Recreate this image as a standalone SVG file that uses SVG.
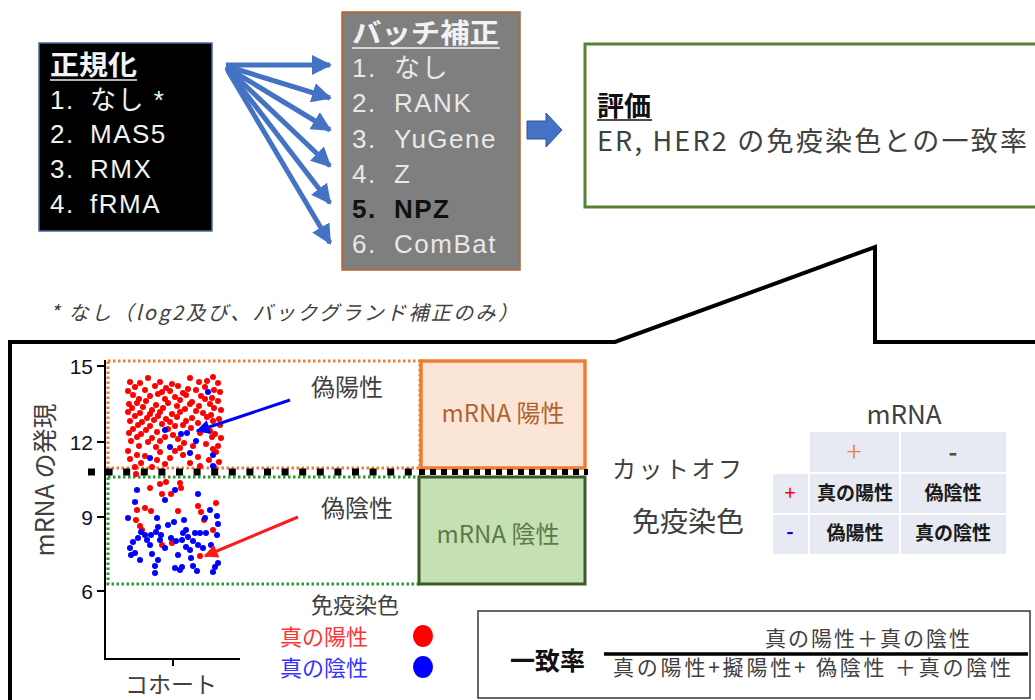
<svg xmlns="http://www.w3.org/2000/svg" xmlns:xlink="http://www.w3.org/1999/xlink" width="1035" height="700" viewBox="0 0 1035 700">
<style>
.jp{font-family:"Noto Sans CJK JP","Noto Sans",sans-serif}
.lt{font-family:"Liberation Sans","Noto Sans CJK JP",sans-serif}
.w{fill:#f2f2f2;font-size:26px;letter-spacing:1.5px}
.g{fill:#e8e8e8;font-size:26px;letter-spacing:1.5px}
.t{fill:#404040}
.num{font-family:"Liberation Sans",Arial,sans-serif;font-size:21px;fill:#10102a;text-anchor:end}
.r{fill:#ff0000}
.b{fill:#0000ff}
.cell{fill:#e8eaf3}
.ct{font-size:19px;font-weight:bold;fill:#1a1a1a;text-anchor:middle}
.fan{stroke:#4472c4;stroke-width:5;fill:none}
</style>
<defs>
<marker id="ah" viewBox="0 0 10 10" refX="9" refY="5" markerUnits="userSpaceOnUse" markerWidth="20" markerHeight="20" orient="auto"><path d="M0,0 L10,5 L0,10 z" fill="#4472c4"/></marker>
<marker id="ahb" viewBox="0 0 10 10" refX="9" refY="5" markerUnits="userSpaceOnUse" markerWidth="16" markerHeight="14" orient="auto"><path d="M0,0 L10,5 L0,10 z" fill="#0000ff"/></marker>
<marker id="ahr" viewBox="0 0 10 10" refX="9" refY="5" markerUnits="userSpaceOnUse" markerWidth="16" markerHeight="14" orient="auto"><path d="M0,0 L10,5 L0,10 z" fill="#ff1a1a"/></marker>
<circle id="d" r="3"/>
</defs>
<rect width="1035" height="700" fill="#ffffff"/>

<!-- Normalization box -->
<g id="normalize">
<rect x="39" y="43" width="173" height="188" fill="#000000" stroke="#4a6aa0" stroke-width="1.5"/>
<text class="lt" x="50" y="75" font-size="27" font-weight="bold" fill="#f2f2f2" textLength="87" lengthAdjust="spacingAndGlyphs">正規化</text>
<line x1="50" y1="80" x2="137" y2="80" stroke="#f2f2f2" stroke-width="1.5"/>
<text class="lt w" x="50" y="109">1.<tspan x="90">なし *</tspan></text>
<text class="lt w" x="50" y="143">2.<tspan x="90">MAS5</tspan></text>
<text class="lt w" x="50" y="178">3.<tspan x="90">RMX</tspan></text>
<text class="lt w" x="50" y="213">4.<tspan x="90">fRMA</tspan></text>
</g>

<!-- Batch correction box -->
<g id="batch">
<rect x="342" y="12" width="178" height="258" fill="#7f7f7f" stroke="#c0622a" stroke-width="1.5"/>
<text class="lt" x="352" y="43" font-size="27" font-weight="bold" fill="#f2f2f2" textLength="147" lengthAdjust="spacingAndGlyphs">バッチ補正</text>
<line x1="352" y1="48" x2="500" y2="48" stroke="#f2f2f2" stroke-width="1.5"/>
<text class="lt g" x="352" y="77">1.<tspan x="394">なし</tspan></text>
<text class="lt g" x="352" y="112">2.<tspan x="394">RANK</tspan></text>
<text class="lt g" x="352" y="148">3.<tspan x="394">YuGene</tspan></text>
<text class="lt g" x="352" y="183">4.<tspan x="394">Z</tspan></text>
<text class="lt" x="352" y="218" font-size="26" font-weight="bold" fill="#111111" letter-spacing="1.5">5.<tspan x="394">NPZ</tspan></text>
<text class="lt g" x="352" y="253">6.<tspan x="394">ComBat</tspan></text>
</g>

<!-- Evaluation box -->
<g id="evaluation">
<rect x="585" y="44" width="460" height="163" fill="#ffffff" stroke="#548235" stroke-width="3"/>
<text class="lt" x="597" y="116" font-size="27" font-weight="bold" fill="#111111">評価</text>
<line x1="597" y1="120" x2="652" y2="120" stroke="#111111" stroke-width="1.5"/>
<text class="jp t" x="597" y="151" font-size="27" textLength="430" lengthAdjust="spacing">ER, HER2 の免疫染色との一致率</text>
</g>

<!-- Footnote -->
<g id="footnote">
<text class="jp t" x="50" y="320" font-size="20" font-style="italic" textLength="468" lengthAdjust="spacing">* なし（log2及び、バックグランド補正のみ）</text>
</g>

<!-- Connectors -->
<g id="connectors">
<line class="fan" x1="226" y1="65" x2="330" y2="65" marker-end="url(#ah)"/>
<line class="fan" x1="226" y1="66" x2="330" y2="98" marker-end="url(#ah)"/>
<line class="fan" x1="226" y1="67" x2="330" y2="130" marker-end="url(#ah)"/>
<line class="fan" x1="227" y1="68" x2="330" y2="166" marker-end="url(#ah)"/>
<line class="fan" x1="227" y1="69" x2="330" y2="203" marker-end="url(#ah)"/>
<line class="fan" x1="228" y1="71" x2="330" y2="243" marker-end="url(#ah)"/>
<path d="M527,121 H546 V113 L562,130 L546,147 V139 H527 Z" fill="#4472c4" stroke="#2f528f" stroke-width="1"/>
</g>

<!-- Callout frame -->
<g id="callout">
<path d="M10,702 V342 H615 L875,247 V342 H1040" fill="none" stroke="#000000" stroke-width="4"/>
</g>

<!-- Plot -->
<g id="plot">
<rect x="108" y="361" width="312" height="107" fill="none" stroke="#ed7d31" stroke-width="3" stroke-dasharray="2.5 2.5"/>
<rect x="108" y="477" width="312" height="107" fill="none" stroke="#2a9a2a" stroke-width="3" stroke-dasharray="2.5 2.5"/>
<rect x="421" y="361" width="164" height="107" fill="#fbe5d6" stroke="#ed7d31" stroke-width="3.5"/>
<rect x="419" y="477" width="166" height="107" fill="#c5e0b4" stroke="#3b5a26" stroke-width="3"/>
<text class="jp" x="503" y="422" font-size="24" fill="#b0632f" text-anchor="middle">mRNA 陽性</text>
<text class="jp" x="498" y="543" font-size="24" fill="#5e7a48" text-anchor="middle">mRNA 陰性</text>

<!-- axes -->
<line x1="105" y1="360" x2="105" y2="659" stroke="#000" stroke-width="2"/>
<line x1="104" y1="659" x2="240" y2="659" stroke="#000" stroke-width="2"/>
<line x1="173" y1="659" x2="173" y2="666" stroke="#000" stroke-width="2"/>
<line x1="97" y1="366" x2="105" y2="366" stroke="#000" stroke-width="2"/>
<line x1="97" y1="442" x2="105" y2="442" stroke="#000" stroke-width="2"/>
<line x1="97" y1="517" x2="105" y2="517" stroke="#000" stroke-width="2"/>
<line x1="97" y1="591" x2="105" y2="591" stroke="#000" stroke-width="2"/>
<text class="num" x="93" y="374">15</text>
<text class="num" x="93" y="450">12</text>
<text class="num" x="93" y="525">9</text>
<text class="num" x="93" y="599">6</text>
<text class="jp t" x="0" y="0" font-size="25" text-anchor="middle" transform="translate(54,480) rotate(-90)">mRNA の発現</text>
<text class="jp t" x="171" y="693" font-size="23" text-anchor="middle">コホート</text>

<!-- red dots upper -->
<g class="r">
<use xlink:href="#d" x="148" y="378"/><use xlink:href="#d" x="190" y="378"/><use xlink:href="#d" x="213" y="377"/><use xlink:href="#d" x="207" y="381"/>
<use xlink:href="#d" x="130" y="382"/><use xlink:href="#d" x="140" y="383"/><use xlink:href="#d" x="160" y="382"/><use xlink:href="#d" x="172" y="384"/><use xlink:href="#d" x="199" y="382"/><use xlink:href="#d" x="218" y="383"/>
<use xlink:href="#d" x="135" y="387"/><use xlink:href="#d" x="155" y="386"/><use xlink:href="#d" x="166" y="388"/><use xlink:href="#d" x="178" y="386"/><use xlink:href="#d" x="188" y="389"/><use xlink:href="#d" x="205" y="387"/><use xlink:href="#d" x="214" y="390"/>
<use xlink:href="#d" x="128" y="391"/><use xlink:href="#d" x="145" y="390"/><use xlink:href="#d" x="162" y="392"/><use xlink:href="#d" x="170" y="391"/><use xlink:href="#d" x="183" y="393"/><use xlink:href="#d" x="196" y="390"/><use xlink:href="#d" x="220" y="392"/>
<use xlink:href="#d" x="133" y="395"/><use xlink:href="#d" x="150" y="396"/><use xlink:href="#d" x="158" y="394"/><use xlink:href="#d" x="175" y="397"/><use xlink:href="#d" x="186" y="395"/><use xlink:href="#d" x="201" y="396"/><use xlink:href="#d" x="212" y="398"/>
<use xlink:href="#d" x="139" y="399"/><use xlink:href="#d" x="146" y="401"/><use xlink:href="#d" x="165" y="399"/><use xlink:href="#d" x="180" y="400"/><use xlink:href="#d" x="192" y="402"/><use xlink:href="#d" x="205" y="399"/><use xlink:href="#d" x="218" y="401"/>
<use xlink:href="#d" x="129" y="404"/><use xlink:href="#d" x="137" y="403"/><use xlink:href="#d" x="156" y="405"/><use xlink:href="#d" x="168" y="403"/><use xlink:href="#d" x="177" y="406"/><use xlink:href="#d" x="190" y="404"/><use xlink:href="#d" x="199" y="406"/><use xlink:href="#d" x="210" y="404"/>
<use xlink:href="#d" x="132" y="408"/><use xlink:href="#d" x="143" y="407"/><use xlink:href="#d" x="152" y="410"/><use xlink:href="#d" x="163" y="408"/><use xlink:href="#d" x="185" y="409"/><use xlink:href="#d" x="196" y="411"/><use xlink:href="#d" x="214" y="408"/><use xlink:href="#d" x="221" y="410"/>
<use xlink:href="#d" x="128" y="412"/><use xlink:href="#d" x="140" y="413"/><use xlink:href="#d" x="150" y="414"/><use xlink:href="#d" x="160" y="412"/><use xlink:href="#d" x="172" y="414"/><use xlink:href="#d" x="180" y="412"/><use xlink:href="#d" x="203" y="413"/><use xlink:href="#d" x="211" y="415"/>
<use xlink:href="#d" x="135" y="416"/><use xlink:href="#d" x="147" y="418"/><use xlink:href="#d" x="158" y="416"/><use xlink:href="#d" x="166" y="419"/><use xlink:href="#d" x="177" y="417"/><use xlink:href="#d" x="192" y="418"/><use xlink:href="#d" x="207" y="417"/><use xlink:href="#d" x="219" y="419"/>
<use xlink:href="#d" x="130" y="421"/><use xlink:href="#d" x="142" y="422"/><use xlink:href="#d" x="154" y="420"/><use xlink:href="#d" x="170" y="422"/><use xlink:href="#d" x="186" y="421"/><use xlink:href="#d" x="198" y="423"/><use xlink:href="#d" x="213" y="421"/>
<use xlink:href="#d" x="138" y="425"/><use xlink:href="#d" x="150" y="426"/><use xlink:href="#d" x="162" y="424"/><use xlink:href="#d" x="175" y="426"/><use xlink:href="#d" x="183" y="425"/><use xlink:href="#d" x="205" y="427"/><use xlink:href="#d" x="220" y="425"/>
<use xlink:href="#d" x="133" y="429"/><use xlink:href="#d" x="146" y="430"/><use xlink:href="#d" x="168" y="429"/><use xlink:href="#d" x="191" y="428"/><use xlink:href="#d" x="210" y="431"/>
<use xlink:href="#d" x="129" y="433"/><use xlink:href="#d" x="141" y="434"/><use xlink:href="#d" x="157" y="432"/><use xlink:href="#d" x="173" y="435"/><use xlink:href="#d" x="200" y="433"/><use xlink:href="#d" x="215" y="434"/>
<use xlink:href="#d" x="137" y="437"/><use xlink:href="#d" x="152" y="438"/><use xlink:href="#d" x="165" y="437"/><use xlink:href="#d" x="178" y="439"/><use xlink:href="#d" x="212" y="437"/><use xlink:href="#d" x="221" y="438"/>
<use xlink:href="#d" x="131" y="441"/><use xlink:href="#d" x="148" y="442"/><use xlink:href="#d" x="160" y="441"/><use xlink:href="#d" x="184" y="443"/><use xlink:href="#d" x="206" y="444"/><use xlink:href="#d" x="218" y="446"/>
<use xlink:href="#d" x="139" y="446"/><use xlink:href="#d" x="156" y="447"/><use xlink:href="#d" x="180" y="448"/><use xlink:href="#d" x="193" y="446"/><use xlink:href="#d" x="213" y="449"/>
<use xlink:href="#d" x="128" y="451"/><use xlink:href="#d" x="160" y="452"/><use xlink:href="#d" x="175" y="451"/><use xlink:href="#d" x="216" y="452"/>
<use xlink:href="#d" x="137" y="455"/><use xlink:href="#d" x="145" y="456"/><use xlink:href="#d" x="183" y="455"/><use xlink:href="#d" x="198" y="457"/>
<use xlink:href="#d" x="130" y="459"/><use xlink:href="#d" x="157" y="460"/><use xlink:href="#d" x="170" y="458"/><use xlink:href="#d" x="209" y="460"/><use xlink:href="#d" x="219" y="462"/>
<use xlink:href="#d" x="141" y="463"/><use xlink:href="#d" x="165" y="464"/><use xlink:href="#d" x="190" y="463"/>
<use xlink:href="#d" x="135" y="467"/><use xlink:href="#d" x="152" y="467"/><use xlink:href="#d" x="200" y="466"/><use xlink:href="#d" x="214" y="467"/>
</g>
<!-- blue dots upper -->
<g class="b">
<use xlink:href="#d" x="165" y="430"/><use xlink:href="#d" x="181" y="434"/><use xlink:href="#d" x="187" y="433"/><use xlink:href="#d" x="170" y="447"/><use xlink:href="#d" x="150" y="458"/><use xlink:href="#d" x="196" y="441"/><use xlink:href="#d" x="213" y="455"/><use xlink:href="#d" x="190" y="453"/><use xlink:href="#d" x="208" y="392"/><use xlink:href="#d" x="213" y="466"/>
</g>
<!-- lower dots -->
<g class="r">
<use xlink:href="#d" x="136" y="474"/><use xlink:href="#d" x="150" y="488"/><use xlink:href="#d" x="160" y="484"/><use xlink:href="#d" x="166" y="482"/><use xlink:href="#d" x="180" y="483"/><use xlink:href="#d" x="162" y="494"/><use xlink:href="#d" x="171" y="494"/><use xlink:href="#d" x="181" y="488"/>
<use xlink:href="#d" x="145" y="508"/><use xlink:href="#d" x="151" y="511"/><use xlink:href="#d" x="137" y="510"/><use xlink:href="#d" x="178" y="511"/><use xlink:href="#d" x="198" y="506"/><use xlink:href="#d" x="216" y="503"/><use xlink:href="#d" x="136" y="520"/><use xlink:href="#d" x="140" y="526"/>
<use xlink:href="#d" x="142" y="530"/><use xlink:href="#d" x="204" y="520"/><use xlink:href="#d" x="213" y="530"/><use xlink:href="#d" x="162" y="545"/><use xlink:href="#d" x="172" y="543"/><use xlink:href="#d" x="200" y="556"/><use xlink:href="#d" x="201" y="512"/>
</g>
<g class="b">
<use xlink:href="#d" x="137" y="490"/><use xlink:href="#d" x="175" y="490"/><use xlink:href="#d" x="165" y="500"/><use xlink:href="#d" x="198" y="494"/><use xlink:href="#d" x="135" y="502"/><use xlink:href="#d" x="128" y="518"/><use xlink:href="#d" x="157" y="518"/><use xlink:href="#d" x="174" y="522"/><use xlink:href="#d" x="184" y="520"/><use xlink:href="#d" x="210" y="510"/>
<use xlink:href="#d" x="205" y="518"/><use xlink:href="#d" x="217" y="516"/><use xlink:href="#d" x="218" y="524"/><use xlink:href="#d" x="158" y="527"/><use xlink:href="#d" x="168" y="525"/><use xlink:href="#d" x="141" y="532"/><use xlink:href="#d" x="145" y="535"/><use xlink:href="#d" x="151" y="535"/><use xlink:href="#d" x="156" y="532"/><use xlink:href="#d" x="161" y="535"/>
<use xlink:href="#d" x="183" y="533"/><use xlink:href="#d" x="186" y="530"/><use xlink:href="#d" x="188" y="537"/><use xlink:href="#d" x="195" y="533"/><use xlink:href="#d" x="200" y="533"/><use xlink:href="#d" x="206" y="533"/><use xlink:href="#d" x="147" y="540"/><use xlink:href="#d" x="150" y="545"/><use xlink:href="#d" x="160" y="540"/><use xlink:href="#d" x="171" y="538"/>
<use xlink:href="#d" x="182" y="540"/><use xlink:href="#d" x="193" y="541"/><use xlink:href="#d" x="133" y="542"/><use xlink:href="#d" x="130" y="548"/><use xlink:href="#d" x="138" y="538"/><use xlink:href="#d" x="165" y="548"/><use xlink:href="#d" x="176" y="541"/><use xlink:href="#d" x="186" y="547"/><use xlink:href="#d" x="190" y="550"/><use xlink:href="#d" x="198" y="545"/>
<use xlink:href="#d" x="203" y="548"/><use xlink:href="#d" x="131" y="555"/><use xlink:href="#d" x="152" y="554"/><use xlink:href="#d" x="158" y="560"/><use xlink:href="#d" x="140" y="560"/><use xlink:href="#d" x="178" y="555"/><use xlink:href="#d" x="191" y="558"/><use xlink:href="#d" x="193" y="566"/><use xlink:href="#d" x="155" y="566"/><use xlink:href="#d" x="175" y="568"/>
<use xlink:href="#d" x="182" y="567"/><use xlink:href="#d" x="197" y="571"/><use xlink:href="#d" x="215" y="567"/><use xlink:href="#d" x="218" y="563"/><use xlink:href="#d" x="155" y="573"/><use xlink:href="#d" x="180" y="570"/><use xlink:href="#d" x="213" y="572"/><use xlink:href="#d" x="135" y="553"/><use xlink:href="#d" x="211" y="545"/><use xlink:href="#d" x="217" y="535"/>
</g>

<!-- cutoff line -->
<line x1="88" y1="472" x2="420" y2="472" stroke="#000" stroke-width="7" stroke-dasharray="7 10.6"/>
<line x1="419" y1="472" x2="588" y2="472" stroke="#000" stroke-width="6" stroke-dasharray="6 5"/>

<!-- labels and arrows -->
<text class="jp t" x="347" y="396" font-size="24" text-anchor="middle">偽陽性</text>
<text class="jp t" x="357" y="517" font-size="24" text-anchor="middle">偽陰性</text>
<line x1="290" y1="400" x2="197" y2="431" stroke="#0000ff" stroke-width="3" marker-end="url(#ahb)"/>
<line x1="298" y1="517" x2="205" y2="556" stroke="#ff1a1a" stroke-width="3" marker-end="url(#ahr)"/>
</g>

<!-- Cutoff / IHC labels -->
<g id="labels">
<text class="jp t" x="612" y="478" font-size="24" textLength="130" lengthAdjust="spacing">カットオフ</text>
<text class="jp t" x="632" y="532" font-size="28">免疫染色</text>
</g>

<!-- Contingency table -->
<g id="table">
<text class="jp t" x="904" y="424" font-size="26" text-anchor="middle">mRNA</text>
<rect class="cell" x="810" y="432" width="89" height="40"/>
<rect class="cell" x="901" y="432" width="105" height="40"/>
<rect class="cell" x="773" y="474" width="35" height="39"/>
<rect class="cell" x="810" y="474" width="89" height="39"/>
<rect class="cell" x="901" y="474" width="105" height="39"/>
<rect class="cell" x="773" y="515" width="35" height="39"/>
<rect class="cell" x="810" y="515" width="89" height="39"/>
<rect class="cell" x="901" y="515" width="105" height="39"/>
<text class="jp" x="854" y="462" font-size="28" font-weight="300" fill="#ed7d31" text-anchor="middle">+</text>
<text class="jp" x="953" y="461" font-size="24" font-weight="bold" fill="#3b5a26" text-anchor="middle">-</text>
<text class="jp" x="790" y="500" font-size="20" fill="#ff0000" text-anchor="middle">+</text>
<text class="jp" x="790" y="539" font-size="20" font-weight="bold" fill="#0000ff" text-anchor="middle">-</text>
<text class="jp ct" x="855" y="500">真の陽性</text>
<text class="jp ct" x="953" y="500">偽陰性</text>
<text class="jp ct" x="855" y="540">偽陽性</text>
<text class="jp ct" x="953" y="540">真の陰性</text>
</g>

<!-- Legend -->
<g id="legend">
<text class="jp t" x="355" y="613" font-size="22" text-anchor="middle">免疫染色</text>
<text class="jp" x="280" y="645" font-size="22" fill="#ff3333">真の陽性</text>
<text class="jp" x="280" y="676" font-size="22" fill="#3333ff">真の陰性</text>
<ellipse cx="423" cy="636" rx="10" ry="11" fill="#ff0000"/>
<ellipse cx="423" cy="667" rx="10" ry="11" fill="#0000ff"/>
</g>

<!-- Formula -->
<g id="formula">
<rect x="478" y="611" width="552" height="87" fill="#ffffff" stroke="#333333" stroke-width="1.5"/>
<text class="jp" x="510" y="670" font-size="25" font-weight="bold" fill="#111111">一致率</text>
<line x1="604" y1="654" x2="1028" y2="654" stroke="#000" stroke-width="3.5"/>
<text class="jp t" x="765" y="646" font-size="21" textLength="205" lengthAdjust="spacing">真の陽性＋真の陰性</text>
<text class="jp t" x="613" y="675" font-size="21" textLength="398" lengthAdjust="spacing">真の陽性+擬陽性+ 偽陰性 ＋真の陰性</text>
</g>
</svg>
